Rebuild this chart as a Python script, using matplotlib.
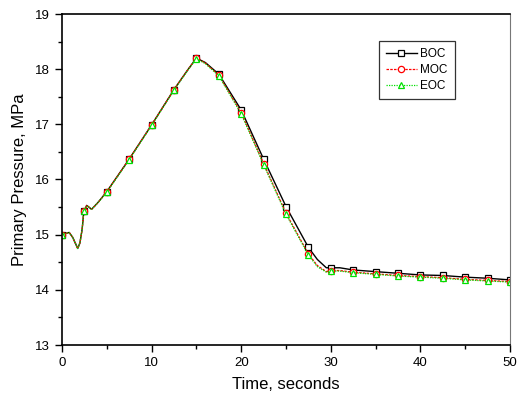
import numpy as np
import matplotlib.pyplot as plt
from matplotlib.ticker import MultipleLocator

plt.rcParams['font.family'] = ['Liberation Sans', 'DejaVu Sans']

# values (time in s, pressure in MPa)
time = [0, 0.4, 0.8, 1.2, 1.75, 2.0, 2.25, 2.4, 2.5, 2.75, 3.0, 3.3, 4.0, 5.0,
        7.5, 10.0, 12.5, 14.0, 15.0, 16.0, 17.5, 20.0, 22.5, 25.0, 27.5,
        28.5, 29.5, 30.0, 31.0, 32.5, 35.0, 37.5, 40.0, 42.5, 45.0, 47.5, 50.0]

boc = [15.00, 15.02, 15.04, 14.95, 14.75, 14.85, 15.10, 15.36, 15.43, 15.53,
       15.50, 15.46, 15.58, 15.78, 16.37, 16.99, 17.63, 17.98, 18.20, 18.12,
       17.91, 17.26, 16.37, 15.51, 14.77, 14.55, 14.40, 14.40, 14.40, 14.36,
       14.33, 14.30, 14.27, 14.26, 14.23, 14.21, 14.18]

moc = [15.00, 15.02, 15.04, 14.95, 14.75, 14.85, 15.10, 15.36, 15.43, 15.53,
       15.50, 15.46, 15.58, 15.78, 16.37, 16.99, 17.63, 17.98, 18.20, 18.11,
       17.89, 17.21, 16.29, 15.39, 14.65, 14.44, 14.33, 14.35, 14.35, 14.32,
       14.29, 14.26, 14.24, 14.22, 14.19, 14.17, 14.15]

eoc = [14.99, 15.02, 15.04, 14.95, 14.75, 14.85, 15.10, 15.36, 15.42, 15.52,
       15.50, 15.46, 15.58, 15.77, 16.36, 16.98, 17.62, 17.97, 18.19, 18.10,
       17.88, 17.19, 16.27, 15.37, 14.63, 14.42, 14.32, 14.34, 14.34, 14.31,
       14.28, 14.25, 14.23, 14.21, 14.18, 14.16, 14.14]

# markers every 2.5 s
marks = [i for i, t in enumerate(time) if t % 2.5 == 0]

fig = plt.figure(figsize=(5.18, 4.01), dpi=100)
ax = fig.add_axes([62/518, 1 - 345/401, 448/518, 331/401])

ax.plot(time, boc, color='black', lw=1.0, marker='s', ms=4.5, mfc='white',
        mec='black', mew=0.9, markevery=marks, label='BOC')
ax.plot(time, moc, color='red', lw=0.9, ls=(0, (2, 1)), marker='o', ms=4.5,
        mfc='white', mec='red', mew=0.9, markevery=marks, label='MOC')
ax.plot(time, eoc, color='#00e000', lw=0.9, ls=(0, (1, 1)), marker='^', ms=5,
        mfc='white', mec='#00e000', mew=0.9, markevery=marks, label='EOC')

ax.set_xlim(0, 50)
ax.set_ylim(13, 19)
ax.xaxis.set_major_locator(MultipleLocator(10))
ax.xaxis.set_minor_locator(MultipleLocator(5))
ax.yaxis.set_major_locator(MultipleLocator(1))
ax.yaxis.set_minor_locator(MultipleLocator(0.5))
ax.tick_params(which='both', direction='out', top=False, right=False, labelsize=9.5)
ax.tick_params(which='major', length=5, width=1)
ax.tick_params(which='minor', length=3, width=1)
for s in ['left', 'bottom', 'top']:
    ax.spines[s].set_linewidth(1.2)
ax.spines['right'].set_color('#777777')

ax.set_xlabel('Time, seconds', fontsize=12, labelpad=6)
ax.set_ylabel('Primary Pressure, MPa', fontsize=12, labelpad=6)

leg = ax.legend(loc='upper left', bbox_to_anchor=((379 - 62) / 448, (345 - 41) / 331),
                borderaxespad=0, fontsize=8.5, fancybox=False, edgecolor='black',
                handlelength=2.6, borderpad=0.6, labelspacing=0.35,
                handletextpad=0.3)
leg.get_frame().set_linewidth(0.9)

plt.savefig('out.png')
